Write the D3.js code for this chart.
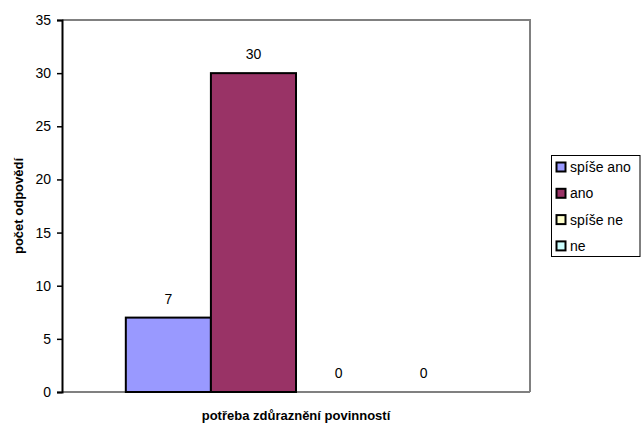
<!DOCTYPE html>
<html><head><meta charset="utf-8">
<script src="https://cdn.jsdelivr.net/npm/d3@7"></script>
<style>body{margin:0;background:#fff}svg{display:block;font-family:Arial,"Liberation Sans",sans-serif}</style>
</head><body><svg id="c" width="641" height="425"></svg>
<script>
const category = "potřeba zdůraznění povinností";
const seriesNames = ["spíše ano","ano","spíše ne","ne"];
const seriesValues = [7,30,0,0];
const seriesColors = ["#9999FF","#993366","#FFFFCC","#CCFFFF"];
const yTicks = [0,5,10,15,20,25,30,35];
const yTitle = "počet odpovědí";

const svg = d3.select("#c");
const L=62,T=20,R=530,B=392;
const y = d3.scaleLinear().domain([0,35]).range([B,T]);
const x = d3.scaleBand().domain(seriesNames).range([L,R]).paddingInner(0).paddingOuter(0.75);

// plot border (top & right gray)
svg.append("path").attr("d",`M${L},${T}H${R}V${B}`).attr("fill","none").attr("stroke","#808080").attr("stroke-width",2);
// bottom axis gray
svg.append("line").attr("x1",L).attr("x2",R).attr("y1",B).attr("y2",B).attr("stroke","#808080").attr("stroke-width",2);

// bars
svg.selectAll("rect.bar").data(seriesValues).join("rect").attr("class","bar")
  .attr("x",(d,i)=>x(seriesNames[i])).attr("width",x.bandwidth())
  .attr("y",d=>y(d)).attr("height",d=>B-y(d))
  .attr("fill",(d,i)=>seriesColors[i]).attr("stroke","#000").attr("stroke-width",2);

// value labels
svg.selectAll("text.val").data(seriesValues).join("text").attr("class","val")
  .attr("x",(d,i)=>x(seriesNames[i])+x.bandwidth()/2).attr("y",d=>y(d)-14)
  .attr("text-anchor","middle").attr("font-size",14).text(d=>d);

// y axis
const ya = d3.axisLeft(y).tickValues(yTicks).tickSize(5).tickPadding(6);
const g = svg.append("g").attr("transform",`translate(${L},0)`).call(ya);
g.select(".domain").attr("stroke","#000").attr("stroke-width",2);
g.selectAll(".tick line").attr("stroke","#000").attr("stroke-width",1.5);
g.selectAll(".tick text").attr("font-size",14).attr("font-family","Arial, 'Liberation Sans', sans-serif").attr("fill","#000");

// y title
svg.append("text").attr("transform",`translate(23,${(T+B)/2}) rotate(-90)`)
  .attr("text-anchor","middle").attr("font-size",13).attr("font-weight","bold").text(yTitle);
// x category label
svg.append("text").attr("x",(L+R)/2).attr("y",420)
  .attr("text-anchor","middle").attr("font-size",13).attr("font-weight","bold").text(category);

// legend
const lg = svg.append("g");
lg.append("rect").attr("x",551.5).attr("y",155.5).attr("width",88.5).attr("height",101).attr("fill","#fff").attr("stroke","#000").attr("stroke-width",1);
const items = lg.selectAll("g.it").data(seriesNames).join("g").attr("class","it")
  .attr("transform",(d,i)=>`translate(0,${167+i*26.3})`);
items.append("rect").attr("x",556.5).attr("y",-4.5).attr("width",9).attr("height",9)
  .attr("fill",(d,i)=>seriesColors[i]).attr("stroke","#000").attr("stroke-width",2);
items.append("text").attr("x",570).attr("y",5).attr("font-size",14).text(d=>d);
</script></body></html>
